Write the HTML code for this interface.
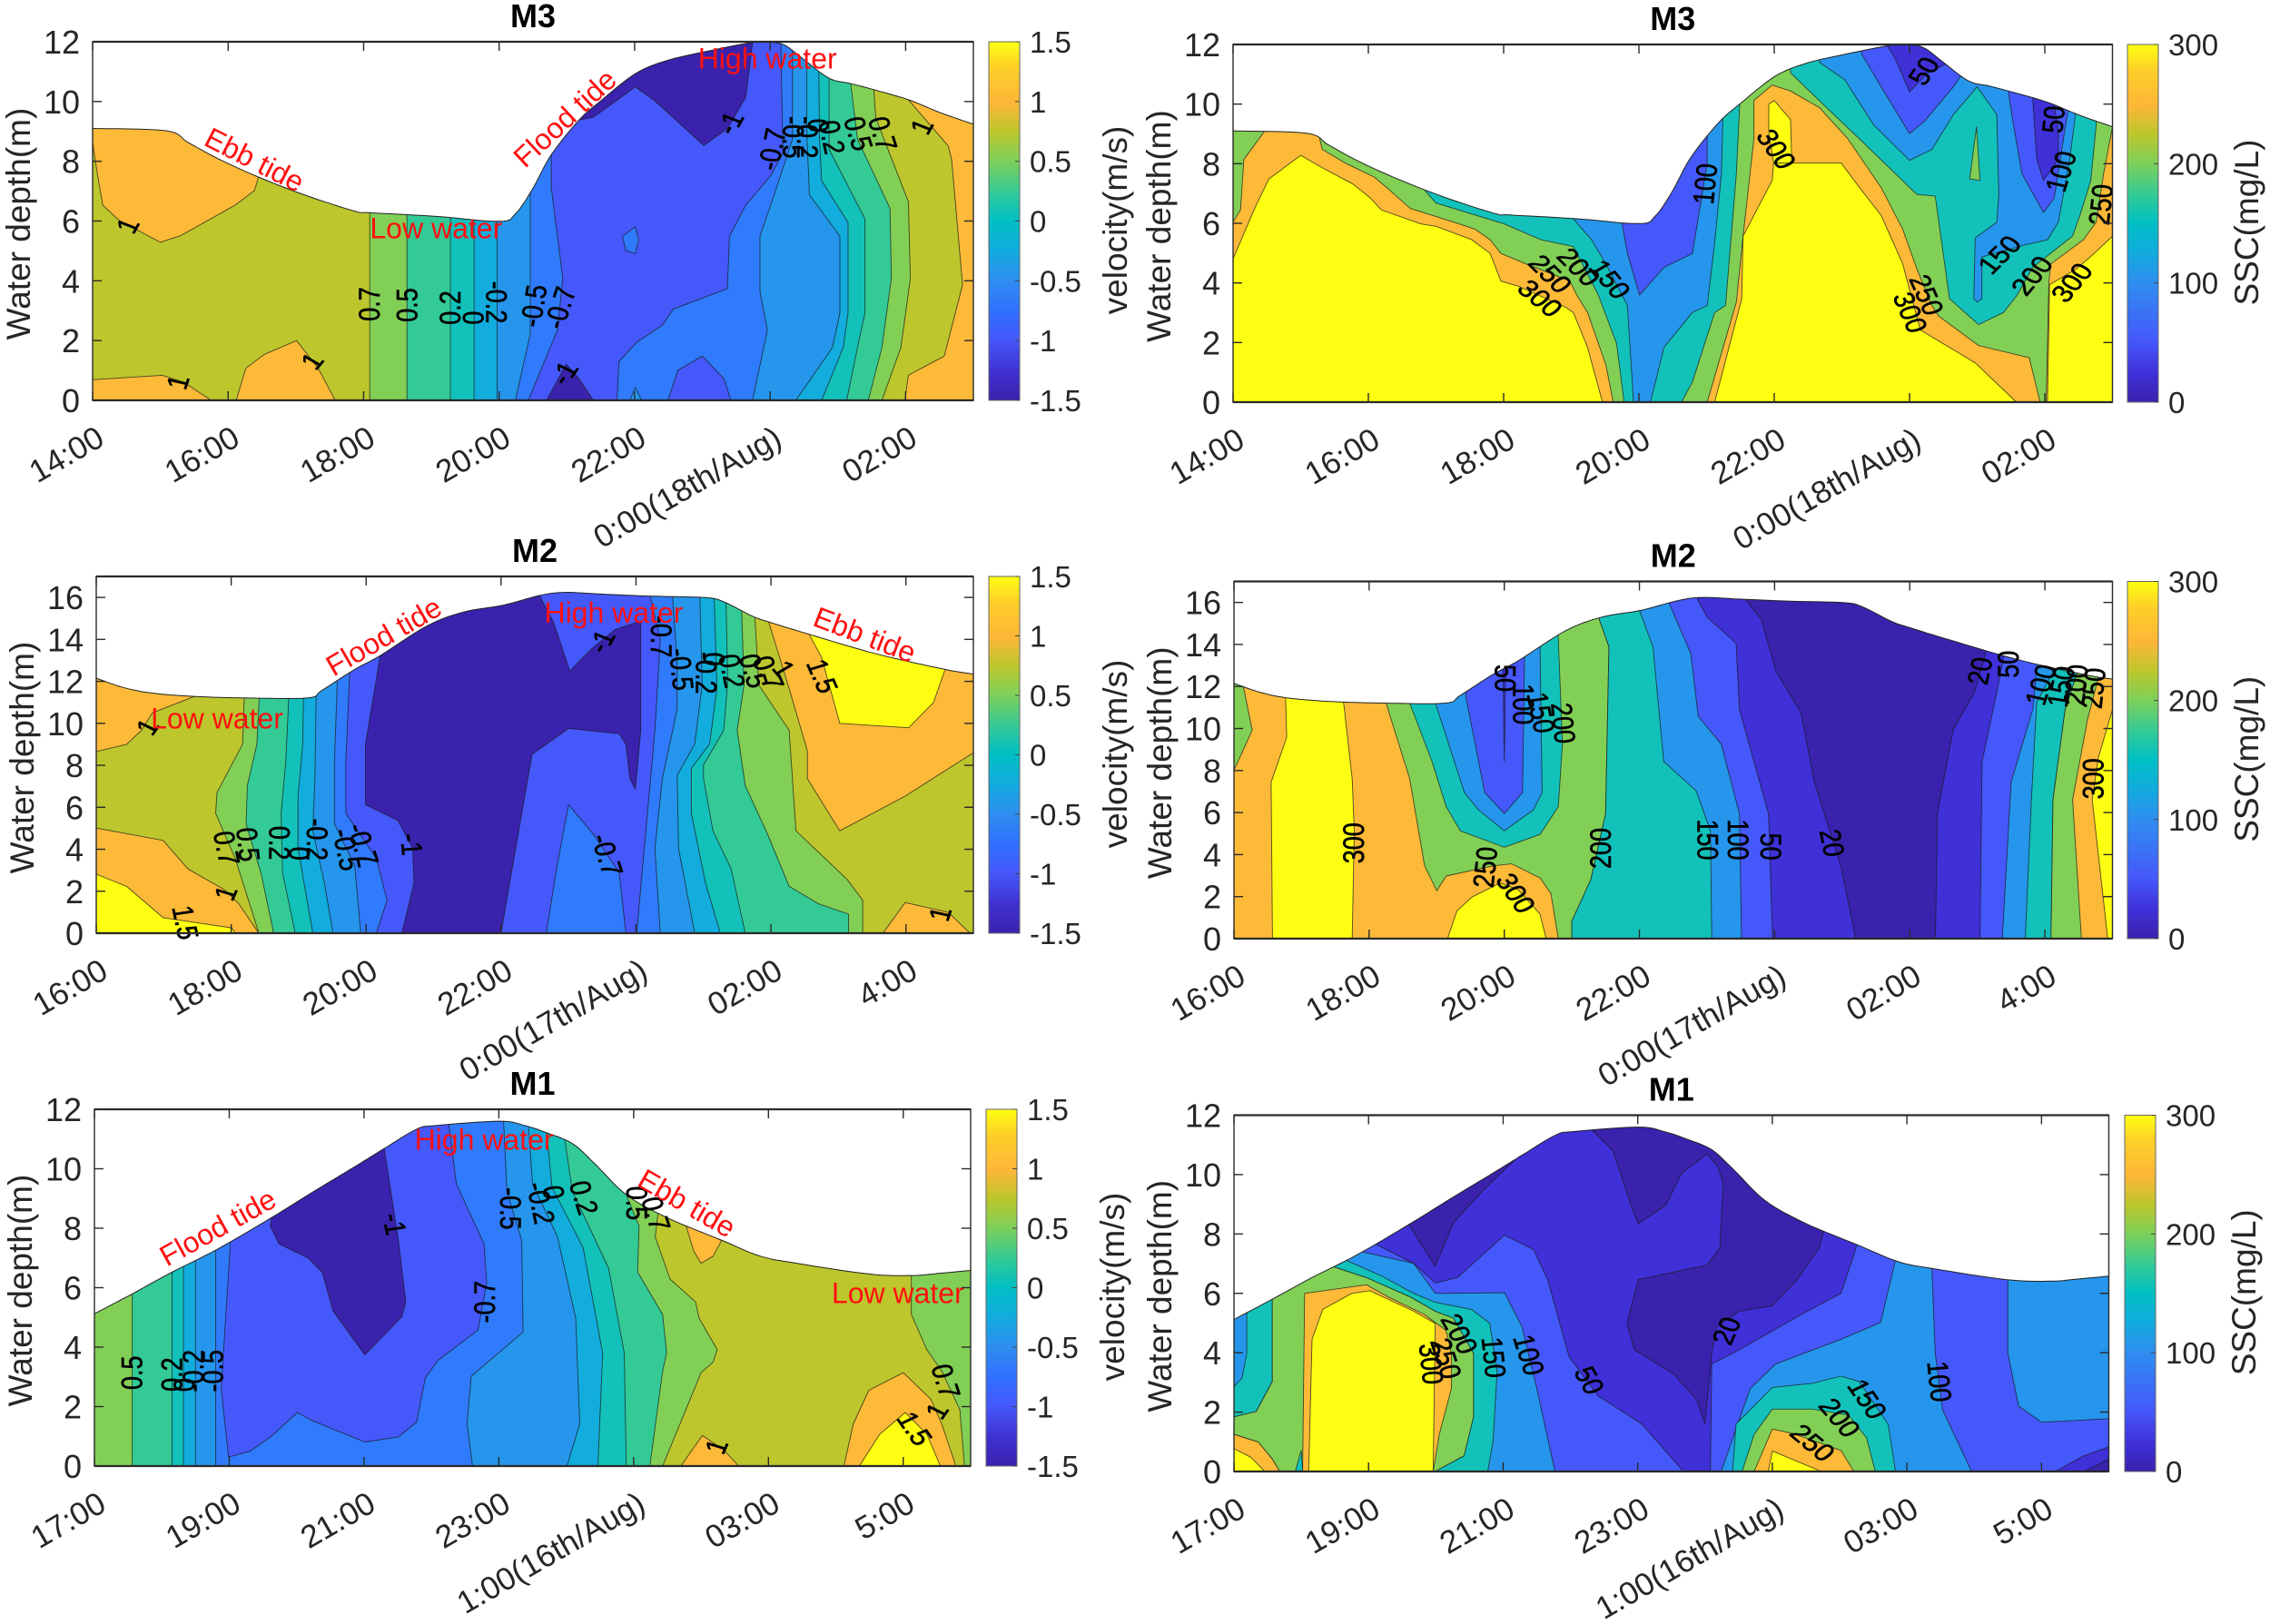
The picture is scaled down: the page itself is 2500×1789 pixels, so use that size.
<!DOCTYPE html>
<html lang="en">
<head>
<meta charset="utf-8">
<title>Velocity and SSC contours at M1, M2 and M3</title>
<style>
html,body{margin:0;padding:0;background:#fff;}
svg{display:block;font-family:"Liberation Sans",Arial,sans-serif;}
</style>
</head>
<body>
<svg id="figure" xmlns="http://www.w3.org/2000/svg" width="2500" height="1789" viewBox="0 0 2500 1789">
<defs>
<linearGradient id="velocity-gradient" x1="0" y1="1" x2="0" y2="0">
<stop offset="0" stop-color="#3A22AD"/><stop offset="0.08" stop-color="#3F30D0"/><stop offset="0.17" stop-color="#4558FA"/><stop offset="0.25" stop-color="#3070FF"/><stop offset="0.33" stop-color="#2F8CF0"/><stop offset="0.42" stop-color="#12ACDD"/><stop offset="0.5" stop-color="#00BFC4"/><stop offset="0.58" stop-color="#33CA96"/><stop offset="0.67" stop-color="#7FD058"/><stop offset="0.75" stop-color="#BDC62C"/><stop offset="0.83" stop-color="#FDB638"/><stop offset="0.93" stop-color="#FDD028"/><stop offset="1" stop-color="#FFFF12"/>
</linearGradient>
</defs>
</svg>
<script>
const velocityEdges = [-1, -0.7, -0.5, -0.2, 0, 0.2, 0.5, 0.7, 1, 1.5];
const velocityColors = ['#3A22AD','#4558FA','#2F7BFB','#2596EC','#12ACDD','#12C2BA','#33CA96','#82CF55','#BDC62C','#FDBA38','#FEFE12'];
const sscEdges = [20, 50, 100, 150, 200, 250, 300];
const sscColors = ['#3A22AD','#3F30D8','#4558FA','#2596EC','#12C2BA','#82CF55','#FDBA38','#FEFE12'];
const velocityBarTicks = [-1.5, -1, -0.5, 0, 0.5, 1, 1.5];
const sscBarTicks = [0, 100, 200, 300];
const m3TimeLabels = ['14:00','16:00','18:00','20:00','22:00','0:00(18th/Aug)','02:00'];
const m2TimeLabels = ['16:00','18:00','20:00','22:00','0:00(17th/Aug)','02:00','4:00'];
const m1TimeLabels = ['17:00','19:00','21:00','23:00','1:00(16th/Aug)','03:00','5:00'];

const m3Surface = [[14,9.1],[15.09,9.02],[15.41,8.63],[15.84,8.1],[16.43,7.49],[17.12,6.88],[17.87,6.33],[18.09,6.28],[19.04,6.16],[20,5.99],[20.24,6.24],[20.49,7.06],[20.77,8.22],[21.18,9.38],[21.5,10.02],[22.01,10.93],[22.46,11.36],[23,11.65],[23.74,11.98],[24,11.99],[24.22,11.88],[24.49,11.42],[24.87,10.78],[25.19,10.6],[25.51,10.41],[26.04,10.06],[26.52,9.62],[27,9.24]];
const m2Surface = [[16,12.15],[16.4,11.71],[16.83,11.44],[17.47,11.28],[18.22,11.21],[19.13,11.21],[19.35,11.58],[19.83,12.57],[20.21,13.23],[20.9,14.64],[21.44,15.3],[22.03,15.63],[22.57,16.09],[22.94,16.24],[23.48,16.16],[24.23,16.06],[25.03,15.99],[25.3,15.79],[25.73,15.1],[26,14.8],[26.59,14.22],[27.56,13.31],[28.58,12.57],[29,12.35]];
const m1Surface = [[17,5.12],[17.56,5.79],[18.15,6.52],[18.83,7.3],[19.63,8.36],[20.22,9.19],[20.87,10.08],[21.3,10.68],[21.78,11.33],[22.05,11.45],[23.01,11.6],[23.39,11.45],[23.71,11.21],[24.09,10.85],[24.41,10.2],[24.89,9.13],[25.49,8.36],[26.31,7.59],[26.88,7.06],[27.42,6.82],[28.49,6.46],[29.14,6.41],[29.57,6.49],[30,6.58]];

const m3VelocityRegions = [
[1.25,[[14,8.63],[14.07,7.58],[14.15,6.53],[14.4,6.01],[15,5.29],[15.3,5.51],[16.1,6.53],[16.39,7.02],[16.45,7.49],[16.45,13],[14,13]]],
[1.25,[[14,0.69],[15.03,0.84],[15.35,0.6],[15.75,0],[14,0]]],
[1.25,[[16.12,0],[16.26,1.07],[16.53,1.53],[17.01,2],[17.33,1.07],[17.58,0]]],
[1.25,[[26.04,13],[26.04,10.06],[26.63,8.51],[26.68,8.05],[26.84,3.86],[26.57,1.48],[26.04,0.84],[25.99,0],[27,0],[27,13]]],
[0.6,[[18.09,0],[18.09,13],[25.53,13],[25.53,10.4],[25.56,9.44],[26.04,6.65],[26.07,4.09],[25.93,1.77],[25.65,0]]],
[0.35,[[18.64,0],[18.64,13],[25.19,13],[25.19,10.6],[25.29,8.74],[25.77,6.42],[25.79,4.09],[25.65,1.77],[25.45,0]]],
[0.1,[[19.28,0],[19.28,13],[24.87,13],[24.87,8.4],[25.4,6.07],[25.4,2.93],[25.29,1.77],[25.13,0]]],
[-0.1,[[19.63,0],[19.63,13],[24.71,13],[24.73,8.74],[24.76,7.35],[25.15,5.95],[25.15,2.93],[25.08,1.77],[24.76,0]]],
[-0.35,[[19.97,0],[19.97,13],[24.54,13],[24.54,9.09],[24.58,6.88],[25.03,5.49],[25.03,2.93],[24.92,1.77],[24.38,0]]],
[-0.6,[[20.24,0],[20.46,2.23],[20.46,13],[24.33,13],[24.33,8.74],[24.06,6.88],[23.85,5.49],[23.85,3.63],[23.96,2.35],[23.74,0]]],
[-0.85,[[20.43,0],[20.86,2.35],[20.94,4.09],[20.86,5.49],[20.77,7.12],[20.77,13],[24.15,13],[24.19,8.28],[24.01,7.52],[23.64,6.53],[23.4,5.49],[23.37,3.74],[22.57,3.05],[22.41,2.52],[22.03,1.94],[21.77,1.3],[21.74,0]]],
[-0.85,[[22.49,0],[22.64,1.01],[23,1.48],[23.32,0.72],[23.42,0]]],
[-0.6,[[21.82,5.49],[22.01,5.81],[22.06,5.37],[22.01,4.91],[21.87,5.02]]],
[-0.35,[[21.93,0],[22.01,0.43],[22.1,0]]],
[-1.25,[[21.18,13],[21.18,9.38],[21.39,9.47],[22.01,10.49],[22.3,10.02],[23.02,8.53],[23.37,9.09],[23.64,10.14],[23.74,11.98],[23.74,13]]],
[-1.25,[[20.7,0],[20.99,1.21],[21.18,0.72],[21.39,0]]]
];
const m3VelocityLabels = [['1',14.53,5.84,-65],['1',15.27,0.6,-75],['1',17.25,1.3,-55],['0.7',18.1,3.22,-90],['0.5',18.65,3.19,-90],['0.2',19.29,3.1,-90],['0',19.63,2.76,-90],['-0.2',19.95,3.28,90],['-0.5',20.52,3.16,-82],['-0.7',20.91,3.1,-75],['-1',20.97,0.9,-60],['-1',23.42,9.27,-65],['-0.7',24.04,8.4,-80],['-0.5',24.33,8.8,90],['-0.2',24.54,8.8,90],['0',24.7,9.2,90],['0.2',24.9,8.8,80],['0.5',25.29,8.92,75],['0.7',25.65,8.92,75],['1',26.25,9.15,-65]];
const m3VelocityNotes = [['Ebb tide',16.39,8.05,27],['Flood tide',20.97,9.44,-43],['High water',23.96,11.44,0],['Low water',19.07,5.76,0]];

const m3SscRegions = [
[225,[[14,10],[14.5,10],[14.5,9.2],[14.16,8.14],[14.11,6.45],[14,6.04]]],
[225,[[15.28,13],[27,13],[27,9.24],[26.87,7.67],[26.76,6.04],[26.57,5.45],[26.09,4.64],[26.06,4.06],[26.02,0],[25.93,0],[25.77,1.49],[25.02,1.9],[24.43,2.89],[24.33,3.24],[24.11,4.46],[23.9,5.8],[23.58,7.2],[23.09,8.83],[22.67,9.88],[22.24,10.44],[21.97,10.64],[21.7,10.12],[21.7,8.83],[21.54,5.57],[21.44,3.36],[21.01,0],[19.62,0],[19.51,1.26],[19.24,3.01],[19.08,3.59],[18.98,4.06],[18.33,4.64],[17.96,4.99],[17.8,5.45],[17.58,5.8],[17.26,6.04],[16.62,6.5],[16.3,7.14],[16.09,7.55],[15.66,8.02],[15.32,8.48],[15.28,8.83]]],
[175,[[19.78,0],[19.67,1.96],[19.4,3.59],[19.03,5.22],[18.55,5.45],[18.01,5.98],[17,6.68],[16.84,7.09],[16.84,13],[21.49,13],[21.49,10],[21.44,7.67],[21.28,3.24],[21.12,3.01],[20.79,0.68],[20.63,0]]],
[175,[[22.24,13],[22.24,11.05],[22.72,10],[23.26,8.83],[24.03,7.14],[24.11,6.97],[24.38,6.91],[24.59,3.47],[25.02,2.6],[25.39,3.01],[25.59,3.59],[25.82,4.52],[26.41,5.57],[26.52,6.27],[26.68,7.44],[26.76,9.3],[26.76,13]]],
[225,[[24.89,7.49],[24.99,9.24],[25.04,7.44]]],
[125,[[19.92,0],[19.83,3.24],[19.51,4.64],[19.3,5.45],[19.03,6.15],[19.03,13],[21.24,13],[21.24,9.53],[21.22,7.67],[21.12,5.34],[21.01,3.24],[20.79,3.01],[20.37,1.84],[20.17,0]]],
[125,[[22.67,13],[22.67,11.4],[23.04,10.82],[23.47,9.3],[24,8.11],[24.33,8.48],[24.65,9.65],[25,10.58],[25.29,9.65],[25.32,6.97],[25.29,6.04],[24.97,5.51],[24.95,3.47],[25,3.36],[25.07,3.47],[25.07,4.87],[25.72,5.28],[26.04,5.45],[26.2,6.04],[26.36,8.02],[26.46,9.77],[26.52,13]]],
[75,[[19.75,13],[19.75,5.98],[19.83,4.99],[20.01,3.59],[20.37,4.52],[20.79,4.99],[20.9,6.5],[21.01,8.02],[21.01,13]]],
[75,[[23.29,13],[23.29,11.69],[23.58,10.58],[24,9.01],[24.22,9.42],[24.65,10.58],[24.79,11.05],[24.79,13]]],
[75,[[25.45,13],[25.45,10.58],[25.52,9.53],[25.66,7.67],[25.98,6.36],[26.14,6.85],[26.3,9.18],[26.36,10],[26.36,13]]],
[35,[[23.68,13],[23.68,11.92],[23.79,11.52],[24,10.41],[24.27,11.05],[24.59,11.4],[24.59,13]]],
[35,[[25.82,13],[25.82,10.23],[25.88,8.14],[25.98,7.44],[26.2,8.14],[26.2,9.07],[26.14,10],[26.14,13]]],
[310,[[14,4.81],[14.32,6.5],[14.53,7.49],[15,8.28],[15.34,7.84],[15.77,7.32],[16.03,6.85],[16.19,6.45],[16.78,5.98],[17,5.9],[17.53,5.45],[17.8,4.99],[17.96,4.06],[18.23,3.88],[18.92,3.18],[19.03,3.01],[19.24,1.84],[19.46,0],[14,0]]],
[310,[[21.12,0],[21.52,3.47],[21.54,5.57],[21.97,7.44],[21.99,8.02],[22.99,8.02],[23.26,7.2],[23.58,6.27],[23.9,4.64],[24.16,2.42],[24.97,1.32],[25.58,0]]],
[310,[[21.92,10],[22,10.12],[22.24,9.48],[22.26,8.02],[21.99,8.02],[21.92,9.07]]],
[310,[[26.04,0],[26.07,3.94],[26.46,4.46],[26.73,4.99],[27,5.57],[27,0]]]
];
const m3SscLabels = [['50',24.22,11.1,-60],['300',22.02,8.48,60],['100',20.99,7.32,-85],['250',26.84,6.62,-85],['50',26.14,9.48,-85],['100',26.25,7.73,-75],['150',25.34,4.93,-50],['200',25.82,4.23,-55],['300',26.41,4,-55],['250',24.24,3.59,70],['300',24,3,70],['150',19.56,4.11,55],['200',19.1,4.52,50],['250',18.68,4.29,50],['300',18.53,3.47,45]];

const m2VelocityRegions = [
[1.25,[[16,8.65],[16.45,9],[16.67,9.67],[16.83,10.5],[17.47,11.3],[17.47,18],[16,18]]],
[1.25,[[16,5.01],[16.99,4.42],[17.36,3.06],[17.9,2.07],[18.11,1.41],[18.41,0],[16,0]]],
[1.6,[[16,2.81],[16.45,2.23],[16.99,0.74],[18.01,0.25],[18.06,0],[16,0]]],
[1.25,[[27.66,0],[27.99,1.46],[28.63,0.99],[28.95,0]]],
[1.25,[[25.97,18],[25.97,14.8],[26.27,11.66],[26.54,8.68],[26.54,7.36],[27.02,4.88],[27.99,6.53],[29,8.6],[29,18]]],
[1.6,[[26.57,18],[26.57,14.22],[26.75,13.15],[27.02,10],[28.04,9.79],[28.41,11],[28.58,12.57],[28.58,18]]],
[0.6,[[18.27,18],[18.17,9.01],[17.79,6.7],[17.77,5.71],[18.06,3.56],[18.41,0],[27.36,0],[27.36,1.57],[27.13,2.56],[26.37,4.88],[26.27,9.67],[25.82,11.82],[25.71,18]]],
[0.35,[[18.52,18],[18.38,9.01],[18.24,7.03],[18.22,5.21],[18.44,2.89],[18.63,0],[27.15,0],[27.15,0.91],[26.7,1.41],[26.27,2.23],[25.95,4.71],[25.62,7.03],[25.5,9.67],[25.6,11.82],[25.54,18]]],
[0.1,[[18.95,18],[18.81,8.19],[18.74,5.71],[18.76,2.89],[18.95,0],[25.62,0],[25.41,3.06],[25.14,4.88],[25,7.36],[25,8.02],[25.3,9.67],[25.36,11.99],[25.32,18]]],
[-0.1,[[19.1,18],[19.06,9.01],[18.99,6.53],[18.99,4.05],[19.21,0],[25.25,0],[25.03,2.4],[24.82,5.71],[24.82,7.86],[25.09,9.01],[25.2,11.66],[25.14,18]]],
[-0.35,[[19.29,18],[19.24,7.36],[19.21,4.88],[19.38,2.4],[19.51,0],[24.87,0],[24.63,4.05],[24.61,7.52],[24.87,9.01],[24.98,11.82],[24.93,18]]],
[-0.6,[[19.64,18],[19.53,8.19],[19.53,5.21],[19.83,3.22],[19.92,0],[24.36,0],[24.28,4.05],[24.39,7.36],[24.61,10.67],[24.61,12.82],[24.5,18]]],
[-0.85,[[19.83,18],[19.7,8.19],[19.7,5.71],[20.15,3.56],[20.31,1.57],[20.15,0],[24.01,0],[24.28,9.67],[24.36,13.97],[24.21,16.06],[24.21,18]]],
[-0.6,[[22.67,0],[22.83,3.22],[23,6.12],[23.37,4.71],[23.75,2.89],[23.85,0]]],
[-1.25,[[20.21,18],[20.21,13.23],[19.99,9.01],[19.99,6.12],[20.47,5.37],[20.69,4.05],[20.71,2.4],[20.53,0],[22,0],[22.35,6.53],[22.46,8.52],[23,9.76],[23.75,9.51],[23.85,9.01],[23.91,7.36],[23.99,6.86],[24.07,9.67],[24.07,14.88],[23.69,14.47],[23.32,13.48],[23.02,12.49],[22.78,14.8],[22.57,16.09],[22.57,18]]]
];
const m2VelocityLabels = [['1',16.77,9.81,-60],['0.7',17.92,4.05,80],['0.5',18.24,4.22,85],['0.2',18.7,4.3,90],['0',19,3.8,90],['-0.2',19.26,4.47,90],['-0.5',19.7,3.97,80],['-0.7',19.94,4.22,75],['-1',20.66,4.22,85],['1',17.93,1.9,-70],['1.5',17.31,0.5,80],['-0.7',23.56,3.72,75],['-1',23.5,13.89,-65],['-0.7',24.36,14.14,90],['-0.5',24.66,12.57,85],['-0.2',25.03,12.4,90],['0',25.14,13.06,90],['0.2',25.41,12.49,80],['0.5',25.73,12.49,75],['0.7',25.95,12.4,70],['1',26.18,12.57,55],['1.5',26.75,12.24,70],['1',28.52,0.91,-75]];
const m2VelocityNotes = [['Flood tide',20.26,14.14,-30],['High water',23.67,15.26,0],['Ebb tide',27.39,14.22,21],['Low water',17.79,10.22,0]];

const m2SscRegions = [
[225,[[16,13],[16.14,13],[16.14,11.99],[16.27,9.92],[16,8.02]]],
[310,[[16.75,13],[16.78,9.59],[16.55,7.44],[16.57,0],[17.75,0],[17.78,5.13],[17.75,7.61],[17.56,13]]],
[310,[[19.16,0],[19.3,1.32],[19.52,1.98],[19.94,2.65],[20.21,2.32],[20.53,1.16],[20.62,0]]],
[225,[[18.25,18],[18.25,11.21],[18.6,7.61],[18.82,3.47],[19,2.28],[19.14,2.98],[19.84,3.47],[20.11,3.56],[20.53,2.89],[20.69,2.15],[20.8,0],[21,0],[21,0.83],[21.28,2.81],[21.5,5.95],[21.55,13.89],[21.41,15.16],[21.41,18]]],
[175,[[18.6,18],[18.6,11.21],[18.93,8.43],[19.14,6.28],[19.35,5.13],[20,4.35],[20.53,4.96],[20.8,6.28],[20.86,9.26],[20.8,14.3],[20.8,18]]],
[125,[[18.98,18],[18.98,11.21],[19.41,6.95],[19.62,6.12],[20,5.13],[20.43,6.12],[20.56,6.95],[20.53,13.89],[20.53,18]]],
[75,[[19.43,18],[19.43,11.53],[19.71,6.95],[20,5.95],[20.27,6.95],[20.3,13.31],[20.3,18]]],
[35,[[19.98,13],[20,8.43],[20.02,13]]],
[175,[[21.41,18],[21.41,15.16],[21.55,13.89],[21.5,5.95],[21.28,2.81],[21,0.83],[21,0],[28.09,0],[28.12,6.61],[28.3,10.91],[28.47,12.57],[28.47,18]]],
[125,[[22,18],[22,15.63],[22.2,13.89],[22.36,8.43],[22.84,7.03],[23.05,5.13],[23.07,0],[27.71,0],[27.8,6.61],[27.88,11.25],[28.14,12.82],[28.14,18]]],
[75,[[22.44,18],[22.44,15.96],[22.76,13.56],[22.87,10.58],[23.21,9.26],[23.48,5.95],[23.51,0],[27.37,0],[27.5,7.44],[27.82,10.91],[27.88,12.82],[27.88,18]]],
[35,[[22.86,18],[22.86,16.16],[23,15.3],[23.43,14.06],[23.48,10.91],[23.91,5.95],[23.97,0],[27.04,0],[27.07,8.43],[27.29,11.74],[27.39,13.4],[27.39,18]]],
[10,[[23.57,18],[23.57,16.12],[23.8,15.21],[24.02,12.73],[24.39,10.75],[24.59,7.44],[24.98,3.47],[25.2,0],[26.38,0],[26.41,5.95],[26.64,9.92],[26.96,11.74],[27.13,13.64],[27.13,18]]],
[225,[[28.47,18],[28.47,12.57],[28.3,10.91],[28.12,6.61],[28.09,0],[28.54,0],[28.41,6.61],[28.63,10.42],[28.79,12.4],[28.79,18]]],
[310,[[29,10.91],[28.79,8.6],[28.7,6.61],[28.93,0],[29,0]]]
];
const m2SscLabels = [['50',20,12.4,90],['100',20.27,11.16,90],['150',20.53,10.75,80],['200',20.86,10.25,85],['300',17.78,4.55,-90],['250',19.73,3.39,-85],['300',20.16,2.15,60],['200',21.44,4.3,-90],['150',23,4.71,90],['100',23.45,4.71,90],['50',23.93,4.38,90],['20',24.84,4.55,80],['20',27.05,12.73,-80],['50',27.47,13.06,-90],['100',27.95,12.07,-75],['150',28.25,11.99,-80],['200',28.47,12.07,-85],['250',28.73,11.91,-85],['300',28.73,7.61,-90]];

const m1VelocityRegions = [
[0.6,[[17,13],[17,0],[25.43,0],[26,3.14],[26.18,3.5],[26.24,3.91],[25.97,4.98],[25.92,5.52],[25.54,6.29],[25.32,7.71],[25.36,8.48],[25.36,13]]],
[0.35,[[17.56,13],[17.56,0],[25.24,0],[25.43,3.2],[25.49,3.8],[25.43,5.1],[25.06,6.52],[25.08,8.07],[24.89,9.13],[24.89,13]]],
[0.1,[[18.15,13],[18.15,0],[24.89,0],[24.86,3.8],[24.63,6.64],[24.09,9.25],[23.98,10.97],[23.98,13]]],
[-0.1,[[18.32,13],[18.32,0],[24.47,0],[24.54,3.8],[24.25,7.35],[23.79,9.37],[23.71,11.21],[23.71,13]]],
[-0.35,[[18.5,13],[18.5,0],[24.01,0],[24.2,1.42],[24.14,4.98],[23.87,7.71],[23.5,9.49],[23.44,11.45],[23.44,13]]],
[-0.6,[[18.8,13],[18.8,0],[22.61,0],[22.53,1.42],[22.59,3.02],[23.36,4.51],[23.34,7.59],[23.12,9.25],[23.07,11.6],[23.07,13]]],
[-0.85,[[19.02,13],[19.02,7.59],[18.88,2.61],[18.99,0.3],[19.31,0.5],[19.63,1.01],[20.01,1.8],[20.22,1.54],[21.01,0.81],[21.51,0.98],[21.78,1.48],[21.91,2.97],[22.1,3.56],[22.69,4.57],[22.82,6.17],[22.78,7.47],[22.37,9.49],[22.26,11.45],[22.26,13]]],
[-1.25,[[19.63,13],[19.63,8.36],[19.61,8.07],[19.74,7.47],[20.17,7],[20.38,6.52],[20.54,5.22],[21.01,3.74],[21.56,5.02],[21.62,5.52],[21.51,7.59],[21.3,10.68],[21.3,13]]],
[1.25,[[25.75,13],[25.75,8.3],[25.89,7.24],[26,6.82],[26.18,7.06],[26.31,7.62],[26.31,13]]],
[1.25,[[25.7,0],[26.02,1.03],[26.34,0.53],[26.56,0]]],
[1.25,[[28.12,0],[28.26,1.42],[28.49,2.55],[29,3.14],[29.41,2.25],[29.57,1.42],[29.78,0]]],
[1.6,[[28.35,0],[28.65,1.07],[29.03,1.8],[29.35,1.07],[29.55,0]]],
[0.6,[[30,13],[29.12,13],[29.12,5.1],[29.35,3.91],[29.57,3.2],[29.84,1.9],[29.91,0],[30,0]]]
];
const m1VelocityLabels = [['0.5',17.57,3.14,-90],['0.2',18.16,3.08,-90],['0',18.34,2.73,-90],['-0.2',18.48,3.2,-90],['-0.5',18.77,3.2,-90],['-1',21.44,8.13,80],['-0.7',22.8,5.52,-90],['-0.5',23.16,8.66,90],['-0.2',23.61,8.84,80],['0',23.8,9.2,80],['0.2',24.25,9.02,75],['0.5',25.03,8.84,90],['0.7',25.32,8.48,75],['1',26.24,0.65,-70],['1.5',29.16,1.25,60],['1',29.51,1.84,-60],['0.7',29.62,2.85,75]];
const m1VelocityNotes = [['Flood tide',18.83,8.03,-29],['High water',22.78,10.97,0],['Ebb tide',25.79,8.84,30],['Low water',28.92,5.81,0]];

const m1SscRegions = [
[125,[[17,13],[18.86,13],[18.86,7.42],[19.67,7.01],[19.99,6],[21.02,6.02],[21.28,4.87],[21.5,2.79],[21.77,0],[17,0]]],
[125,[[26.83,13],[26.83,7.13],[26.61,5.02],[26.02,4.45],[25.05,3.62],[24.67,2.79],[24.24,0],[27.96,0],[27.53,2.08],[27.42,3.98],[27.37,6.83],[27.37,13]]],
[125,[[28.5,13],[28.5,3.98],[28.66,2.2],[29,1.66],[30,1.78],[30,13]]],
[35,[[19.1,13],[19.1,7.66],[19.67,7.01],[19.99,6.35],[20.32,6.53],[21.02,7.96],[21.45,7.48],[21.66,6.47],[21.98,3.86],[22.41,2.55],[23.06,1.6],[23.68,0],[24.08,0],[24.1,3.62],[24.51,4.1],[25.43,5.29],[26.02,6],[26.27,7.7],[26.27,13]]],
[35,[[29.2,0],[29.63,0.53],[30,0.83],[30,0]]],
[10,[[19.59,13],[19.59,8.35],[19.78,7.66],[19.99,6.92],[20.26,8.37],[20.69,9.44],[21.18,10.51],[21.18,13]]],
[10,[[22.33,13],[22.33,11.48],[22.63,10.81],[22.9,8.97],[23.01,8.35],[23.42,8.97],[23.65,10.04],[24.03,10.69],[24.19,10.27],[24.27,9.68],[24.22,7.54],[24.03,6.95],[23.01,6.47],[22.84,4.99],[22.95,4.1],[23.54,3.27],[23.87,2.43],[24,1.6],[24.1,3.98],[24.17,4.87],[24.51,5.4],[25,5.58],[25.37,6.47],[25.7,7.54],[25.77,8.19],[25.77,13]]],
[10,[[29.63,0],[30,0.42],[30,0]]],
[175,[[17.19,13],[17.57,13],[17.57,3.03],[17.33,2.02],[17,1.84],[17,2.85],[17.12,3.15],[17.19,3.98]]],
[225,[[17.57,13],[18.45,13],[18.45,6.92],[18.97,6.53],[19.62,5.88],[19.99,5.4],[20.26,5.17],[20.56,3.98],[20.56,1.84],[20.42,0.53],[19.99,0],[17.68,0],[17.57,0.42],[17.36,0.99],[17,1.25],[17,1.84],[17.33,2.02],[17.57,3.03]]],
[175,[[18.45,13],[18.65,13],[18.65,7.13],[19.19,6.59],[19.67,6],[19.99,5.7],[20.53,5.46],[20.8,4.99],[20.91,3.38],[20.85,1.01],[20.77,0],[19.99,0],[20.42,0.53],[20.56,1.84],[20.56,3.98],[20.26,5.17],[19.99,5.4],[19.62,5.88],[18.97,6.53],[18.45,6.92]]],
[275,[[17,1.25],[17.36,0.99],[17.57,0.42],[17.68,0],[17,0]]],
[310,[[17,0.77],[17.25,0.48],[17.46,0],[17,0]]],
[175,[[17.91,0],[18,0.71],[18.02,0]]],
[275,[[18.02,0],[18.05,6],[18.97,6.29],[19.29,5.88],[19.83,5.29],[20.15,4.75],[20.23,3.98],[20.23,2.79],[20.05,1.25],[19.96,0]]],
[310,[[18.11,0],[18.16,4.45],[18.32,5.46],[18.75,6],[19.02,6.09],[19.67,5.4],[19.99,4.99],[19.96,0]]],
[175,[[24.41,0],[24.46,1.6],[25,2.83],[25.59,2.97],[26.02,3.21],[26.29,3.03],[26.72,1.6],[26.83,0]]],
[225,[[24.55,0],[24.73,1.25],[25,2.1],[25.59,2.1],[26.13,1.9],[26.4,1.13],[26.53,0]]],
[275,[[24.73,0],[25,1.43],[25.32,1.27],[26.02,0.71],[26.21,0]]],
[310,[[24.94,0],[25,0.69],[25.73,0]]]
];
const m1SscLabels = [['20',24.33,4.73,-70],['200',20.34,4.63,65],['250',20.14,3.8,75],['300',19.92,3.62,85],['150',20.85,3.84,85],['100',21.37,3.92,75],['50',22.27,3.06,65],['150',26.4,2.43,60],['200',25.99,1.8,55],['250',25.59,0.95,45],['100',27.47,3.03,85]];

const svgNS = 'http://www.w3.org/2000/svg';
const figure = document.getElementById('figure');

function make(tag, attrs, parent) {
  const el = document.createElementNS(svgNS, tag);
  for (const k in attrs) el.setAttribute(k, attrs[k]);
  parent.appendChild(el);
  return el;
}
function bandColor(value, edges, colors) {
  let i = 0;
  while (i < edges.length && value >= edges[i]) i++;
  return colors[i];
}
function drawText(parent, str, x, y, size, anchor, rotate, extra) {
  const attrs = Object.assign({x: x, y: y, 'font-size': size, 'text-anchor': anchor, fill: '#262626'}, extra || {});
  if (rotate) attrs.transform = 'rotate(' + rotate + ' ' + x + ' ' + y + ')';
  const t = make('text', attrs, parent);
  t.textContent = str;
  return t;
}
function smoothLine(pts) {
  const out = [];
  for (let i = 0; i < pts.length - 1; i++) {
    const p0 = pts[Math.max(i - 1, 0)], p1 = pts[i], p2 = pts[i + 1], p3 = pts[Math.min(i + 2, pts.length - 1)];
    for (let s = 0; s < 8; s++) {
      const u = s / 8, u2 = u * u, u3 = u2 * u;
      out.push([0, 1].map(k => 0.5 * (2 * p1[k] + (p2[k] - p0[k]) * u + (2 * p0[k] - 5 * p1[k] + 4 * p2[k] - p3[k]) * u2 + (3 * p1[k] - p0[k] - 3 * p2[k] + p3[k]) * u3)));
    }
  }
  out.push(pts[pts.length - 1]);
  return out;
}

function drawPanel(p) {
  const group = make('g', {}, figure);
  
  

  const xScale = h => p.left + (h - p.xDomain[0]) / (p.xDomain[1] - p.xDomain[0]) * (p.right - p.left);
  const yScale = d => p.bottom - d / p.yMax * (p.bottom - p.top);
  const toPoints = pts => pts.map(q => xScale(q[0]).toFixed(1) + ',' + yScale(q[1]).toFixed(1)).join(' ');

  const curve = smoothLine(p.surface);
  const outline = curve.concat([[p.xDomain[1], 0], [p.xDomain[0], 0]]);
  const defs = make('defs', {}, group);
  const clip = make('clipPath', {id: p.name + '-clip'}, defs);
  make('polygon', {points: toPoints(outline)}, clip);

  const field = make('g', {'clip-path': 'url(#' + p.name + '-clip)'}, group);
  
  
  const base = make('polygon', {points: toPoints(outline), fill: bandColor(p.baseValue, p.edges, p.colors)}, field);
  
  
  p.regions.forEach(r => {
    const band = make('polygon', {points: toPoints(r[1]), fill: bandColor(r[0], p.edges, p.colors), stroke: '#1a1a1a', 'stroke-width': 0.9, 'stroke-opacity': 0.75, 'stroke-linejoin': 'round'}, field);
    
    
  });

  const sea = make('polyline', {points: toPoints(curve), fill: 'none', stroke: '#222', 'stroke-width': 1}, group);
  
  

  p.labels.forEach(l => {
    const x = xScale(l[1]), y = yScale(l[2]);
    const t = make('text', {x: 0, y: 0, 'font-size': 27, 'text-anchor': 'middle', 'dominant-baseline': 'central', fill: '#000', stroke: '#000', 'stroke-width': 0.5, transform: 'translate(' + x.toFixed(1) + ' ' + y.toFixed(1) + ') scale(1.2 1) rotate(' + l[3] + ')'}, group);
    t.textContent = l[0];
    
    
  });

  (p.notes || []).forEach(n => {
    const x = xScale(n[1]), y = yScale(n[2]);
    const t = drawText(group, n[0], x, y, 32, 'middle', n[3], {'dominant-baseline': 'central', fill: '#ff1010'});
    
    
  });

  const frame = make('rect', {x: p.left, y: p.top, width: p.right - p.left, height: p.bottom - p.top, fill: 'none', stroke: '#2a2a2a', 'stroke-width': 1.4}, group);
  
  
  const topLine = make('line', {x1: p.left, x2: p.right, y1: p.top, y2: p.top, stroke: '#2a2a2a', 'stroke-width': 2.2}, group);
  
  
  const baseLine = make('line', {x1: p.left, x2: p.right, y1: p.bottom, y2: p.bottom, stroke: '#2a2a2a', 'stroke-width': 2.2}, group);
  
  

  p.timeLabels.forEach((lab, i) => {
    const h = p.xDomain[0] + i * 2;
    const x = xScale(h);
    [[p.bottom, p.bottom - 10], [p.top, p.top + 10]].forEach(pair => {
      const tick = make('line', {x1: x, x2: x, y1: pair[0], y2: pair[1], stroke: '#2a2a2a', 'stroke-width': 1.4}, group);
      
      
    });
    const t = drawText(group, lab, x + 15, p.bottom + 48, 35, 'end', -30);
    
    
  });

  for (let d = 0; d <= p.yMax; d += 2) {
    const y = yScale(d);
    [[p.left, p.left + 10], [p.right, p.right - 10]].forEach(pair => {
      const tick = make('line', {x1: pair[0], x2: pair[1], y1: y, y2: y, stroke: '#2a2a2a', 'stroke-width': 1.4}, group);
      
      
    });
    const t = drawText(group, String(d), p.left - 14, y + 13, 36, 'end', 0);
    
    
  }

  const midY = (p.top + p.bottom) / 2;
  const title = drawText(group, p.title, (p.left + p.right) / 2, p.top - 16, 36, 'middle', 0, {'font-weight': 'bold', fill: '#000'});
  
  
  const yTitle = drawText(group, 'Water depth(m)', p.left - 69, midY + 3, 37, 'middle', -90);
  
  

  const barW = 34;
  const bar = make('rect', {x: p.barX, y: p.top, width: barW, height: p.bottom - p.top, fill: 'url(#' + p.gradient + ')', stroke: '#666', 'stroke-width': 1}, group);
  
  
  const span = p.barTicks[p.barTicks.length - 1] - p.barTicks[0];
  p.barTicks.forEach(v => {
    const y = p.bottom - (v - p.barTicks[0]) / span * (p.bottom - p.top);
    const tick = make('line', {x1: p.barX + barW - 5, x2: p.barX + barW, y1: y, y2: y, stroke: '#444', 'stroke-width': 1}, group);
    
    
    const t = drawText(group, String(v), p.barX + barW + 11, y + 12, 33, 'start', 0);
    
    
  });
  const barTitle = drawText(group, p.barTitle, p.barX + barW + p.barTitleGap, midY - 1, 37, 'middle', -90);
  
  
}

const sscGradient = make('linearGradient', {id: 'ssc-gradient', x1: 0, y1: 1, x2: 0, y2: 0}, figure.querySelector('defs'));
[['0','#3A22AD'],['0.08','#3F30D8'],['0.17','#4558FA'],['0.33','#2F8CF0'],['0.42','#12ACDD'],['0.5','#00BFC4'],['0.58','#33CA96'],['0.67','#7FD058'],['0.75','#BDC62C'],['0.83','#FDB638'],['0.93','#FDD028'],['1','#FFFF12']].forEach(s => {
  make('stop', {offset: s[0], 'stop-color': s[1]}, sscGradient);
});

drawPanel({name:'m3-velocity-panel', title:'M3', left:102, right:1072, top:46, bottom:441, xDomain:[14,27], yMax:12, surface:m3Surface, baseValue:0.85, regions:m3VelocityRegions, labels:m3VelocityLabels, notes:m3VelocityNotes, edges:velocityEdges, colors:velocityColors, timeLabels:m3TimeLabels, barX:1089, barTicks:velocityBarTicks, gradient:'velocity-gradient', barTitle:'velocity(m/s)', barTitleGap:118});
drawPanel({name:'m3-ssc-panel', title:'M3', left:1358, right:2326.5, top:49, bottom:443, xDomain:[14,27], yMax:12, surface:m3Surface, baseValue:275, regions:m3SscRegions, labels:m3SscLabels, edges:sscEdges, colors:sscColors, timeLabels:m3TimeLabels, barX:2343, barTicks:sscBarTicks, gradient:'ssc-gradient', barTitle:'SSC(mg/L)', barTitleGap:110});
drawPanel({name:'m2-velocity-panel', title:'M2', left:106, right:1072, top:635, bottom:1028, xDomain:[16,29], yMax:17, surface:m2Surface, baseValue:0.85, regions:m2VelocityRegions, labels:m2VelocityLabels, notes:m2VelocityNotes, edges:velocityEdges, colors:velocityColors, timeLabels:m2TimeLabels, barX:1089, barTicks:velocityBarTicks, gradient:'velocity-gradient', barTitle:'velocity(m/s)', barTitleGap:118});
drawPanel({name:'m2-ssc-panel', title:'M2', left:1359, right:2326.5, top:640.5, bottom:1034, xDomain:[16,29], yMax:17, surface:m2Surface, baseValue:275, regions:m2SscRegions, labels:m2SscLabels, edges:sscEdges, colors:sscColors, timeLabels:m2TimeLabels, barX:2343, barTicks:sscBarTicks, gradient:'ssc-gradient', barTitle:'SSC(mg/L)', barTitleGap:110});
drawPanel({name:'m1-velocity-panel', title:'M1', left:104, right:1069, top:1222, bottom:1615, xDomain:[17,30], yMax:12, surface:m1Surface, baseValue:0.85, regions:m1VelocityRegions, labels:m1VelocityLabels, notes:m1VelocityNotes, edges:velocityEdges, colors:velocityColors, timeLabels:m1TimeLabels, barX:1086, barTicks:velocityBarTicks, gradient:'velocity-gradient', barTitle:'velocity(m/s)', barTitleGap:118});
drawPanel({name:'m1-ssc-panel', title:'M1', left:1359, right:2322.5, top:1228.5, bottom:1621, xDomain:[17,30], yMax:12, surface:m1Surface, baseValue:75, regions:m1SscRegions, labels:m1SscLabels, edges:sscEdges, colors:sscColors, timeLabels:m1TimeLabels, barX:2340, barTicks:sscBarTicks, gradient:'ssc-gradient', barTitle:'SSC(mg/L)', barTitleGap:110});
</script>
</body>
</html>
